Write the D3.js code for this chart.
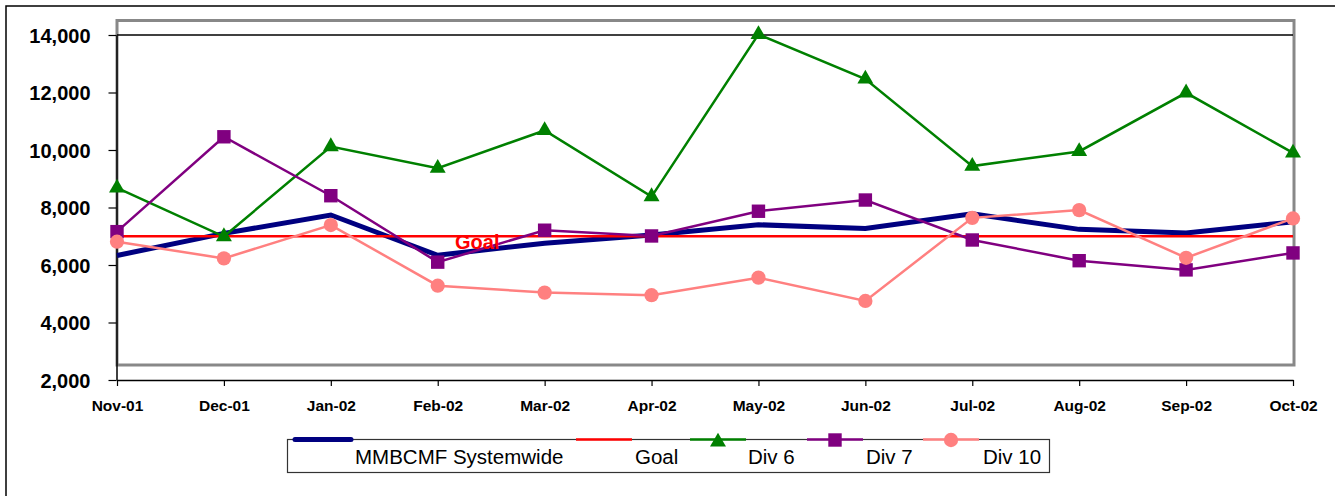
<!DOCTYPE html>
<html>
<head>
<meta charset="utf-8">
<script src="https://cdn.jsdelivr.net/npm/d3@7"></script>
<style>
  html, body { margin: 0; padding: 0; background: #fff; }
  svg { display: block; font-family: Arial, "Liberation Sans", sans-serif; }
</style>
</head>
<body>
<svg id="chart" width="1335" height="496"></svg>
<script>
// Monthly values, Nov 2001 – Oct 2002
const months = ["Nov-01", "Dec-01", "Jan-02", "Feb-02", "Mar-02", "Apr-02",
                "May-02", "Jun-02", "Jul-02", "Aug-02", "Sep-02", "Oct-02"];
const systemwide = [6330, 7100, 7740, 6340, 6760, 7040, 7400, 7270, 7780, 7240, 7110, 7500];
const goal       = [7000, 7000, 7000, 7000, 7000, 7000, 7000, 7000, 7000, 7000, 7000, 7000];
const div6       = [8680, 6990, 10120, 9370, 10680, 8380, 14020, 12470, 9440, 9950, 11990, 9900];
const div7       = [7160, 10460, 8410, 6100, 7210, 7010, 7870, 8260, 6870, 6150, 5830, 6420];
const div10      = [6810, 6230, 7390, 5280, 5040, 4950, 5560, 4750, 7640, 7910, 6250, 7620];
const yTicks     = [2000, 4000, 6000, 8000, 10000, 12000, 14000];

const seriesList = [
  { name: "MMBCMF Systemwide", values: systemwide, color: "#000080", width: 5,   symbol: null },
  { name: "Goal",              values: goal,       color: "#FF0000", width: 2.5, symbol: null },
  { name: "Div 6",             values: div6,       color: "#008000", width: 2.5, symbol: d3.symbolTriangle, size: 110 },
  { name: "Div 7",             values: div7,       color: "#800080", width: 2.5, symbol: d3.symbolSquare,   size: 180 },
  { name: "Div 10",            values: div10,      color: "#FF8080", width: 2.5, symbol: d3.symbolCircle,   size: 160 }
];

const svg = d3.select("#chart");

// outer chart frame
svg.append("rect")
  .attr("x", 6).attr("y", 6).attr("width", 1340).attr("height", 500)
  .attr("fill", "none").attr("stroke", "#000").attr("stroke-width", 1.5);

const x = d3.scalePoint().domain(months).range([117, 1293]);
const y = d3.scaleLinear().domain([2000, 14000]).range([380, 35]);

// plot area border
svg.append("rect")
  .attr("x", 117).attr("y", 20.5).attr("width", 1177).attr("height", 344.5)
  .attr("fill", "none").attr("stroke", "#888").attr("stroke-width", 3);

// gridline at the top value
svg.append("line")
  .attr("x1", 117).attr("x2", 1293)
  .attr("y1", y(14000)).attr("y2", y(14000))
  .attr("stroke", "#000").attr("stroke-width", 1.5);

// y axis
const yAxis = svg.append("g")
  .attr("transform", "translate(116.5,0)")
  .call(d3.axisLeft(y).tickValues(yTicks).tickFormat(d3.format(",")).tickSize(8).tickSizeOuter(0));
yAxis.select(".domain").attr("stroke", "#000").attr("stroke-width", 1.5);
yAxis.selectAll(".tick line").attr("stroke", "#000").attr("stroke-width", 1.2);
yAxis.selectAll(".tick text")
  .attr("x", -26).attr("dy", "0.36em")
  .attr("font-size", 20).attr("font-weight", "bold").attr("fill", "#000")
  .attr("font-family", "Arial, 'Liberation Sans', sans-serif");

// x axis
const xAxis = svg.append("g")
  .attr("transform", "translate(0,380)")
  .call(d3.axisBottom(x).tickSize(6).tickSizeOuter(0));
xAxis.select(".domain").attr("stroke", "#000").attr("stroke-width", 1.5);
xAxis.selectAll(".tick line").attr("stroke", "#000").attr("stroke-width", 1.2);
xAxis.selectAll(".tick text")
  .attr("y", 31).attr("dy", 0)
  .attr("font-size", 15.5).attr("font-weight", "bold").attr("fill", "#000")
  .attr("font-family", "Arial, 'Liberation Sans', sans-serif");

const line = d3.line()
  .x((d, i) => x(months[i]))
  .y(d => y(d));

// series lines and markers
seriesList.forEach(s => {
  svg.append("path")
    .datum(s.values)
    .attr("d", line)
    .attr("fill", "none")
    .attr("stroke", s.color)
    .attr("stroke-width", s.width)
    .attr("stroke-linejoin", "miter");

  if (s.symbol) {
    svg.append("g").selectAll("path")
      .data(s.values)
      .join("path")
      .attr("transform", (d, i) => `translate(${x(months[i])},${y(d)})`)
      .attr("d", d3.symbol(s.symbol, s.size))
      .attr("fill", s.color);
  }
});

// label on the goal line
svg.append("text")
  .attr("x", 455).attr("y", 248.5)
  .attr("font-size", 20).attr("font-weight", "bold")
  .attr("fill", "#FF0000")
  .text("Goal");

// legend
const legend = svg.append("g");
legend.append("rect")
  .attr("x", 287.5).attr("y", 439.5).attr("width", 762).attr("height", 33)
  .attr("fill", "#fff").attr("stroke", "#333").attr("stroke-width", 1.2);

const legendItems = [
  { lx: 295, tx: 355 },
  { lx: 576, tx: 635 },
  { lx: 690, tx: 748 },
  { lx: 807, tx: 866 },
  { lx: 923, tx: 983 }
];

seriesList.forEach((s, i) => {
  const it = legendItems[i];
  legend.append("line")
    .attr("x1", it.lx).attr("x2", it.lx + 56)
    .attr("y1", 439.5).attr("y2", 439.5)
    .attr("stroke", s.color)
    .attr("stroke-width", s.name === "MMBCMF Systemwide" ? 5 : 2.5)
    .attr("stroke-linecap", s.name === "MMBCMF Systemwide" ? "round" : "butt");
  if (s.symbol) {
    legend.append("path")
      .attr("transform", `translate(${it.lx + 28},${s.symbol === d3.symbolTriangle ? 442 : 440})`)
      .attr("d", d3.symbol(s.symbol, s.size))
      .attr("fill", s.color);
  }
  legend.append("text")
    .attr("x", it.tx).attr("y", 463.5)
    .attr("font-size", 20.5).attr("fill", "#000")
    .text(s.name);
});
</script>
</body>
</html>
